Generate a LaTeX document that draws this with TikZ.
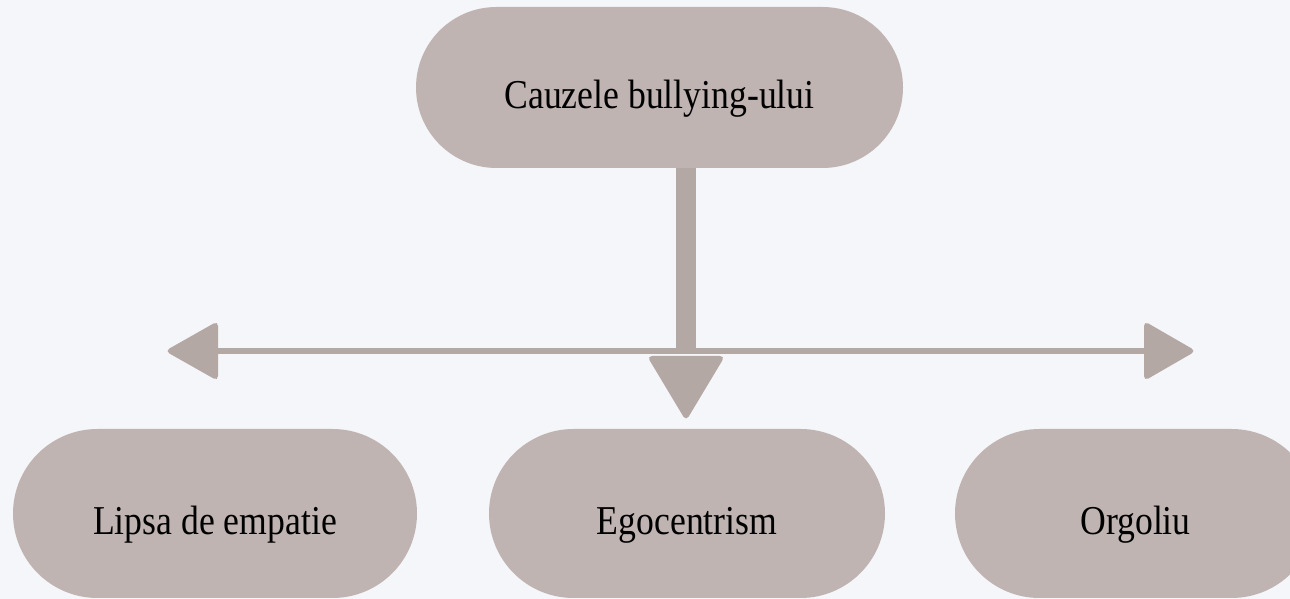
\documentclass[tikz,border=0pt]{standalone}
\usepackage{fontspec}
\setmainfont{Liberation Serif}[FakeStretch=0.87]
\usetikzlibrary{shapes.misc}
\definecolor{bgcol}{HTML}{F5F6F9}
\definecolor{boxcol}{HTML}{BFB4B2}
\definecolor{arrcol}{HTML}{B4A8A5}
\tikzset{
  pill/.style={rounded rectangle, fill=boxcol, draw=none, inner sep=0pt,
    text height=42pt, text depth=0pt, font=\fontsize{41}{46}\selectfont, text=black},
  arrline/.style={draw=arrcol, line cap=butt},
  arrhead/.style={fill=arrcol, rounded corners=5pt}
}
\begin{document}
\begin{tikzpicture}[x=1pt,y=1pt]
\useasboundingbox (0,0) rectangle (1290,599);
\clip (0,0) rectangle (1290,599);
\fill[bgcol] (0,0) rectangle (1290,599);

% nodes
\node[pill, minimum width=487pt, minimum height=161pt] (top) at (659.5,511.5) {Cauzele bullying-ului};
\node[pill, minimum width=404pt, minimum height=169pt] (left) at (215,85.5) {Lipsa de empatie};
\node[pill, minimum width=396pt, minimum height=169pt] (mid) at (687,85.5) {Egocentrism};
\node[pill, minimum width=361pt, minimum height=169pt] (right) at (1135.5,85.5) {Orgoliu};

% horizontal double arrow
\coordinate (hL) at (212,248);
\coordinate (hR) at (1150,248);
\coordinate (tipL) at (165,248);
\coordinate (tipR) at (1196,248);
\draw[arrline, line width=6pt] (hL) -- (hR);
\fill[arrhead] (tipL) -- (218,278) -- (218,218) -- cycle;
\fill[arrhead] (tipR) -- (1144,278) -- (1144,218) -- cycle;

% vertical arrow from the title
\coordinate (vB) at (686,245);
\coordinate (vTip) at (686,178);
\draw[arrline, line width=20pt] (top.south -| vB) -- (vB);
\fill[arrhead] (vTip) -- (647,243) -- (725,243) -- cycle;
\end{tikzpicture}
\end{document}
